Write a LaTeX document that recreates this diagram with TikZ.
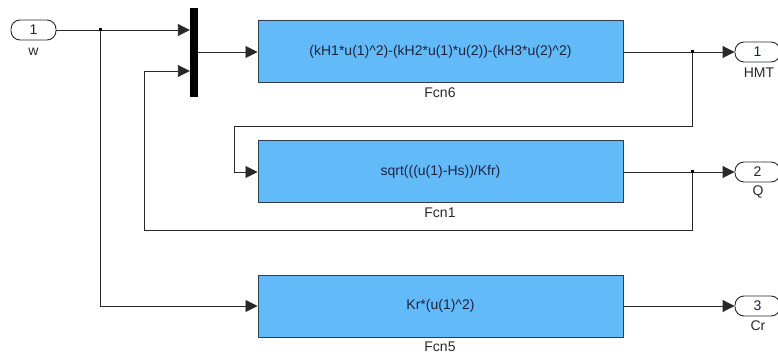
\documentclass[tikz,border=0pt]{standalone}
\usepackage{fontspec}
\setmainfont{Liberation Sans}
\usetikzlibrary{arrows.meta,calc}
\definecolor{blockblue}{RGB}{99,186,248}
\definecolor{blockedge}{RGB}{50,62,80}
\definecolor{blocktext}{RGB}{28,36,64}
\definecolor{wire}{RGB}{40,40,40}
\definecolor{lbltext}{RGB}{40,40,40}
\tikzset{
  fcnblock/.style={draw=blockedge, fill=blockblue, line width=1pt, minimum width=365pt, minimum height=62pt, inner sep=0pt, text=blocktext, font=\fontsize{14}{16}\selectfont},
  port/.style={draw=wire, fill=white, line width=0.9pt, rounded corners=9pt, minimum width=45pt, minimum height=20pt, inner sep=0pt, font=\fontsize{14}{16}\selectfont, text=blocktext},
  lbl/.style={inner sep=0pt, text=lbltext, font=\fontsize{14}{16}\selectfont},
  wireline/.style={draw=wire, line width=0.9pt},
  arr/.style={wireline, -{Triangle[length=12pt,width=12pt]}},
  junc/.style={fill=black, inner sep=0pt, minimum size=3pt, draw=none}
}
\begin{document}
\begin{tikzpicture}[x=1pt,y=-1pt]
\useasboundingbox (0,0) rectangle (778,355);
% inport
\node[port] (in1) at (33.5,30) {1};
\node[lbl] (in1lbl) at (33.5,52) {w};
% mux
\node[fill=black, minimum width=8pt, minimum height=89pt, inner sep=0pt] (mux) at (194,52.5) {};
% function blocks
\node[fcnblock] (fcn6) at (440.5,52) {(kH1*u(1)\^{}2)-(kH2*u(1)*u(2))-(kH3*u(2)\^{}2)};
\node[lbl] (fcn6lbl) at (440,93) {Fcn6};
\node[fcnblock] (fcn1) at (440.5,172) {sqrt(((u(1)-Hs))/Kfr)};
\node[lbl] (fcn1lbl) at (440,213) {Fcn1};
\node[fcnblock] (fcn5) at (440.5,306) {Kr*(u(1)\^{}2)};
\node[lbl] (fcn5lbl) at (440,347) {Fcn5};
% outports
\node[port] (out1) at (757.5,52) {1};
\node[lbl] (out1lbl) at (759,73) {HMT};
\node[port] (out2) at (757.5,172) {2};
\node[lbl] (out2lbl) at (758,192) {Q};
\node[port] (out3) at (757.5,306) {3};
\node[lbl] (out3lbl) at (758,326) {Cr};
% coordinates
\coordinate (j1) at (100,30);
\coordinate (j3) at (692,52);
\coordinate (j2) at (692,172);
\coordinate (c4) at (692,126);
\coordinate (c5) at (234,126);
\coordinate (c1) at (692,230);
\coordinate (c2) at (144,230);
\coordinate (c3) at (144,71);
% connectors
\draw[arr] (in1.east) -- (in1.east -| mux.west);
\draw[arr] (j1) |- (fcn5.west);
\draw[arr] (mux.east |- fcn6.west) -- (fcn6.west);
\draw[arr] (fcn6.east) -- (out1.west);
\draw[arr] (j3) -- (c4) -- (c5) |- (fcn1.west);
\draw[arr] (fcn1.east) -- (out2.west);
\draw[arr] (j2) -- (c1) -- (c2) -- (c3) -- (c3 -| mux.west);
\draw[arr] (fcn5.east) -- (out3.west);
% junction dots
\node[junc] (d1) at (j1) {};
\node[junc] (d3) at (j3) {};
\node[junc] (d2) at (j2) {};
\end{tikzpicture}
\end{document}
